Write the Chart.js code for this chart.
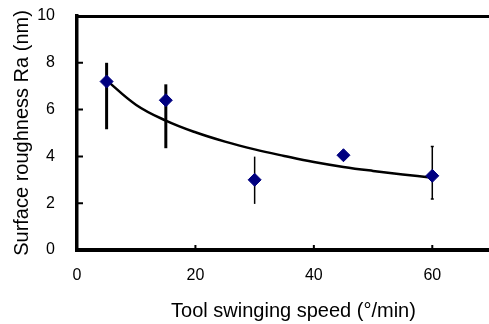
<!DOCTYPE html>
<html>
<head>
<meta charset="utf-8">
<script src="https://cdn.jsdelivr.net/npm/chart.js@4/dist/chart.umd.min.js"></script>
<style>
  html, body { margin: 0; padding: 0; background: #fff; overflow: hidden; }
</style>
</head>
<body>
<canvas id="chart" width="499" height="324"></canvas>
<script>
// measured points
const speed = [5, 15, 30, 45, 60];
const roughness = [7.2, 6.4, 3.0, 4.05, 3.17];
const errLow = [5.16, 4.35, 1.97, 4.05, 2.18];
const errHigh = [8.0, 7.08, 3.99, 4.05, 4.42];

// fitted trend curve
const fitSpeed = [5, 10, 15, 20, 25, 30, 35, 40, 45, 50, 55, 60];
const fitRoughness = [7.25, 6.2, 5.53, 5.03, 4.63, 4.3, 4.02, 3.76, 3.55, 3.38, 3.23, 3.09];

const xTicks = [0, 20, 40, 60];
const yTicks = [0, 2, 4, 6, 8, 10];
const xTitle = "Tool swinging speed (°/min)";
const yTitle = "Surface roughness Ra (nm)";

const barLineWidth = [3, 3, 1.5, 0, 1.5];
const barCapWidth = [0, 0, 0, 0, 3];

const FONT = 'Arial, "Liberation Sans", sans-serif';

const decor = {
  id: "decor",
  beforeDatasetsDraw(chart) {
    const { ctx, scales: { x, y } } = chart;
    ctx.save();
    ctx.strokeStyle = "#000";
    speed.forEach((s, i) => {
      if (!barLineWidth[i]) return;
      const px = x.getPixelForValue(s);
      const top = y.getPixelForValue(errHigh[i]);
      const bot = y.getPixelForValue(errLow[i]);
      ctx.lineWidth = barLineWidth[i];
      ctx.beginPath();
      ctx.moveTo(px, bot);
      ctx.lineTo(px, top);
      if (barCapWidth[i]) {
        const h = barCapWidth[i] / 2;
        ctx.moveTo(px - h, top); ctx.lineTo(px + h, top);
        ctx.moveTo(px - h, bot); ctx.lineTo(px + h, bot);
      }
      ctx.stroke();
    });
    ctx.restore();
  },
  afterDraw(chart) {
    // small inward tick marks
    const { ctx, scales: { x, y } } = chart;
    ctx.save();
    ctx.strokeStyle = "#000";
    ctx.lineWidth = 2;
    ctx.beginPath();
    xTicks.slice(1).forEach(v => {
      const px = x.getPixelForValue(v);
      ctx.moveTo(px, y.bottom);
      ctx.lineTo(px, y.bottom - 5);
    });
    yTicks.slice(1, -1).forEach(v => {
      const py = y.getPixelForValue(v);
      ctx.moveTo(x.left, py);
      ctx.lineTo(x.left + 6, py);
    });
    ctx.stroke();
    // x title sits a bit right of the plot centre in the original
    ctx.fillStyle = "#000";
    ctx.font = "20px " + FONT;
    ctx.textAlign = "center";
    ctx.textBaseline = "alphabetic";
    ctx.fillText(xTitle, x.left + 216.5, 316.5);
    ctx.restore();
  },
};

const noPad = s => { s.paddingTop = 0; s.paddingBottom = 0; s.paddingLeft = 0; s.paddingRight = 0; };

new Chart(document.getElementById("chart"), {
  type: "line",
  plugins: [decor],
  data: {
    datasets: [
      {
        data: speed.map((s, i) => ({ x: s, y: roughness[i] })),
        showLine: false,
        pointStyle: "rectRot",
        pointRadius: 6.5,
        backgroundColor: "#000080",
        borderColor: "#000080",
        borderWidth: 1,
      },
      {
        data: fitSpeed.map((s, i) => ({ x: s, y: fitRoughness[i] })),
        borderColor: "#000",
        borderWidth: 2.5,
        pointRadius: 0,
        tension: 0.4,
        fill: false,
      },
    ],
  },
  options: {
    responsive: false,
    animation: false,
    devicePixelRatio: 1,
    layout: { padding: { left: 0, right: 0.5, top: 0, bottom: 0 } },
    plugins: { legend: { display: false }, tooltip: { enabled: false } },
    scales: {
      x: {
        type: "linear",
        position: "bottom",
        min: 0,
        max: 70,
        afterBuildTicks: s => { s.ticks = xTicks.map(v => ({ value: v })); },
        afterFit: s => { s.height = 74; noPad(s); },
        grid: { display: false, drawTicks: false },
        border: { display: true, color: "#000", width: 4 },
        ticks: { color: "#000", padding: 16, font: { family: FONT, size: 16 } },
      },
      xTop: {
        type: "linear",
        position: "top",
        min: 0,
        max: 70,
        afterFit: s => { s.height = 16; noPad(s); },
        grid: { display: false, drawTicks: false },
        border: { display: true, color: "#000", width: 3 },
        ticks: { display: false },
      },
      y: {
        min: 0,
        max: 10,
        afterBuildTicks: s => { s.ticks = yTicks.map(v => ({ value: v })); },
        afterFit: s => { s.width = 77; noPad(s); },
        grid: { display: false, drawTicks: false },
        border: { display: true, color: "#000", width: 3.5 },
        ticks: { color: "#000", padding: 22, font: { family: FONT, size: 16 } },
        title: {
          display: true,
          text: yTitle,
          color: "#000",
          font: { family: FONT, size: 20 },
          padding: { top: 10, bottom: 0 },
        },
      },
    },
  },
});
</script>
</body>
</html>
